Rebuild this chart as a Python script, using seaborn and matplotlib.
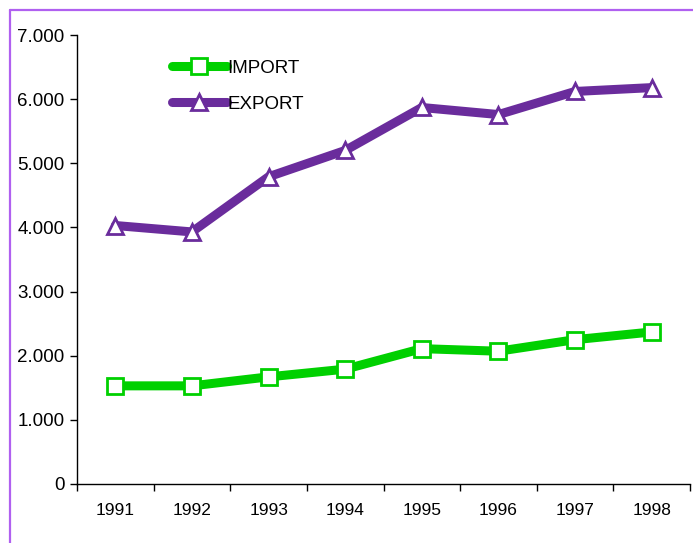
import matplotlib
matplotlib.use("Agg")
import matplotlib.pyplot as plt
import matplotlib.ticker as mticker
from matplotlib.lines import Line2D
import numpy as np
import pandas as pd
import seaborn as sns

years = ["1991", "1992", "1993", "1994", "1995", "1996", "1997", "1998"]
import_vals = [1530, 1530, 1670, 1790, 2110, 2070, 2250, 2370]
export_vals = [4030, 3930, 4790, 5200, 5870, 5760, 6120, 6180]
series_names = ["IMPORT", "EXPORT"]

sns.set_theme(style="white")
plt.rcParams["font.family"] = ["Liberation Sans", "DejaVu Sans"]
plt.rcParams["text.color"] = "black"
plt.rcParams["xtick.color"] = "black"
plt.rcParams["ytick.color"] = "black"

df = pd.DataFrame(
    {
        "pos": list(range(len(years))) * 2,
        "value": import_vals + export_vals,
        "series": [series_names[0]] * len(years) + [series_names[1]] * len(years),
    }
)

green = "#00d000"
purple = "#6a2c9c"
lw = 6.5
ms = 11.5

fig = plt.figure(figsize=(6.93, 5.43), dpi=100)
ax = fig.add_axes([0.1111, 0.1087, 0.8846, 0.8268])

sns.lineplot(
    data=df,
    x="pos",
    y="value",
    hue="series",
    style="series",
    palette={"IMPORT": green, "EXPORT": purple},
    markers={"IMPORT": "s", "EXPORT": "^"},
    dashes=False,
    linewidth=lw,
    markersize=ms,
    markerfacecolor="white",
    markeredgewidth=2,
    ax=ax,
)
for line, col in zip(ax.lines, [green, purple]):
    line.set_markeredgecolor(col)
    line.set_solid_joinstyle("round")
    line.set_solid_capstyle("round")

ax.set_xlim(-0.5, len(years) - 0.5)
ax.set_ylim(0, 7000)
ax.set_xticks(range(len(years)))
ax.set_xticklabels(years)
ax.set_xticks(np.arange(-0.5, len(years), 1.0), minor=True)
ax.tick_params(axis="x", which="major", length=0, pad=14, labelsize=12.5)
ax.tick_params(axis="x", which="minor", length=5, width=1, direction="out", bottom=True, color="black")
ax.set_yticks(np.arange(0, 7001, 1000))
ax.yaxis.set_major_formatter(
    mticker.FuncFormatter(lambda v, p: f"{int(v):,}".replace(",", "."))
)
ax.tick_params(axis="y", length=5, width=1, direction="out", left=True, color="black", labelsize=13.5, pad=4)
ax.set_xlabel("")
ax.set_ylabel("")
for s in ["top", "right"]:
    ax.spines[s].set_visible(False)
for s in ["left", "bottom"]:
    ax.spines[s].set_color("black")
    ax.spines[s].set_linewidth(1)

leg = ax.legend(
    loc="upper left",
    bbox_to_anchor=(0.127, 0.983),
    frameon=False,
    handlelength=2.95,
    handletextpad=0.0,
    labelspacing=1.0,
    fontsize=13.5,
    title=None,
)
for h, col in zip(leg.legend_handles, [green, purple]):
    h.set_linewidth(lw)
    h.set_markerfacecolor("white")
    h.set_markeredgecolor(col)
    h.set_markersize(ms)
    h.set_solid_capstyle("round")

border = "#b060f0"
x0, y0 = 9.5 / 693, 1 - 9.5 / 543
fig.add_artist(Line2D([x0, x0], [y0, -0.01], transform=fig.transFigure, color=border, lw=1.6))
fig.add_artist(Line2D([x0, 1.01], [y0, y0], transform=fig.transFigure, color=border, lw=1.6))

fig.savefig("out.png", dpi=100)
